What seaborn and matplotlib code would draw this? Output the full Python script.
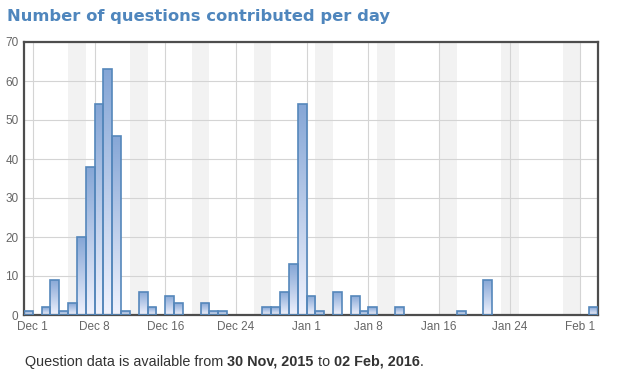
import numpy as np
import pandas as pd
import seaborn as sns
import matplotlib.pyplot as plt
from matplotlib.colors import LinearSegmentedColormap

# one value per day, 30 Nov 2015 .. 02 Feb 2016
days = pd.date_range('2015-11-30', '2016-02-02', freq='D')
questions = [1, 0, 2, 9, 1, 3, 20, 38, 54, 63,
             46, 1, 0, 6, 2, 0, 5, 3, 0, 0,
             3, 1, 1, 0, 0, 0, 0, 2, 2, 6,
             13, 54, 5, 1, 0, 6, 0, 5, 1, 2,
             0, 0, 2, 0, 0, 0, 0, 0, 0, 1,
             0, 0, 9, 0, 0, 0, 0, 0, 0, 0,
             0, 0, 0, 0, 2]
tick_dates = ['2015-12-01', '2015-12-08', '2015-12-16', '2015-12-24',
              '2016-01-01', '2016-01-08', '2016-01-16', '2016-01-24', '2016-02-01']
tick_labels = ['Dec 1', 'Dec 8', 'Dec 16', 'Dec 24',
               'Jan 1', 'Jan 8', 'Jan 16', 'Jan 24', 'Feb 1']

df = pd.DataFrame({'day': days.strftime('%Y-%m-%d'), 'questions': questions})

sns.set_style('white')
plt.rcParams['font.family'] = ['Liberation Sans', 'DejaVu Sans']

fig = plt.figure(figsize=(6.17, 3.75), dpi=100)
ax = fig.add_axes([24 / 617, 1 - 315 / 375, 574 / 617, 273 / 375])

sns.barplot(data=df, x='day', y='questions', width=1, color='#8aaad8',
            edgecolor='#5587bb', linewidth=1.2, ax=ax, zorder=2)

# vertical gradient fill per bar
cmap = LinearSegmentedColormap.from_list('qbar', ['#f0f2fd', '#85a6d6'])
grad = np.linspace(0, 1, 256).reshape(-1, 1)
for p in ax.containers[0]:
    h = p.get_height()
    if h <= 0:
        p.set_visible(False)
        continue
    x0, w = p.get_x(), p.get_width()
    im = ax.imshow(grad, cmap=cmap, origin='lower', aspect='auto',
                   extent=[x0, x0 + w, 0, h], zorder=2, interpolation='bilinear')
    im.set_clip_path(p)
    p.set_facecolor('none')
    p.set_zorder(3)

# weekend bands
for i, d in enumerate(days):
    if d.dayofweek >= 5:
        ax.axvspan(i - 0.5, i + 0.5, color='#f2f2f2', lw=0, zorder=0)

ax.set_xlim(-0.5, len(days) - 0.5)
ax.set_ylim(0, 70)
ax.set_yticks(range(0, 71, 10))
ax.set_xticks([days.get_loc(pd.Timestamp(t)) - 0.5 for t in tick_dates], tick_labels)
ax.set_axisbelow(True)
ax.grid(True, color='#d4d4d4', lw=0.8)
ax.tick_params(length=0, colors='#666666', labelsize=8.5, pad=4)
ax.set_xlabel('')
ax.set_ylabel('')
for s in ax.spines.values():
    s.set_visible(True)
    s.set_color('#4d4d4d')
    s.set_linewidth(1.6)

fig.text(7 / 617, 1 - 16 / 375, 'Number of questions contributed per day',
         fontsize=11.8, fontweight='bold', color='#4f86bd', va='center',
         family='DejaVu Sans')

t1 = fig.text(25 / 617, 1 - 369 / 375, 'Question data is available from ',
              fontsize=10.4, color='#333333', va='bottom')
t2 = fig.add_artist(plt.Annotation('30 Nov, 2015', xy=(1, 0), xycoords=t1,
                                   va='bottom', fontsize=10.4, fontweight='bold', color='#333333'))
t3 = fig.add_artist(plt.Annotation(' to ', xy=(1, 0), xycoords=t2,
                                   va='bottom', fontsize=10.4, color='#333333'))
t4 = fig.add_artist(plt.Annotation('02 Feb, 2016', xy=(1, 0), xycoords=t3,
                                   va='bottom', fontsize=10.4, fontweight='bold', color='#333333'))
fig.add_artist(plt.Annotation('.', xy=(1, 0), xycoords=t4,
                              va='bottom', fontsize=10.4, color='#333333'))

fig.savefig('out.png', dpi=100)
